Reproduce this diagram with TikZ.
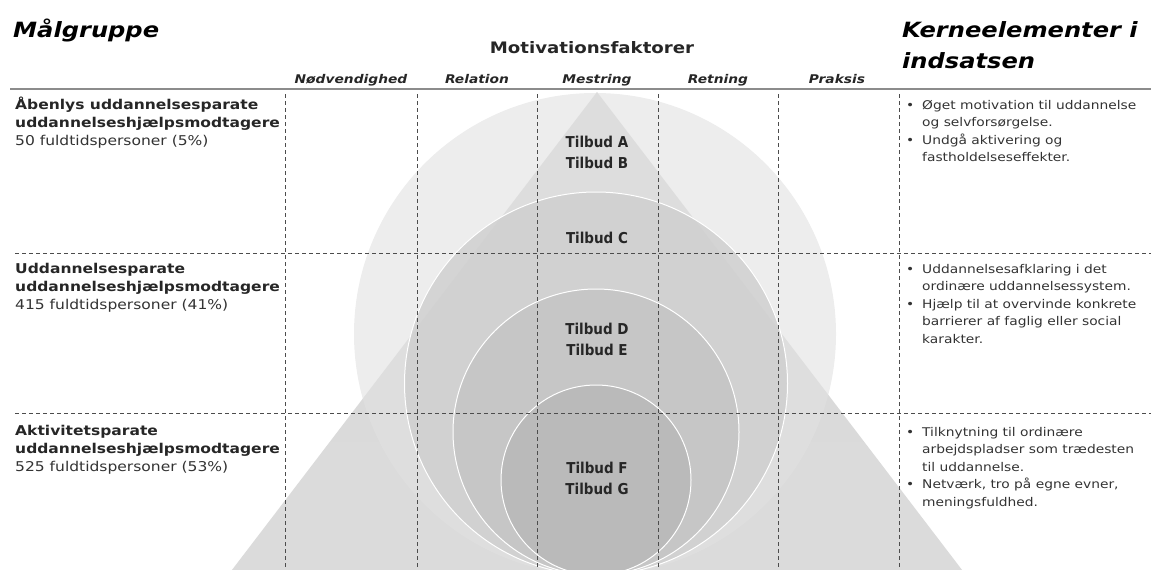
\documentclass[tikz,border=0pt]{standalone}
\usepackage{fontspec}
\setmainfont{DejaVu Sans}[FakeStretch=1.15]
\newfontfamily\tilbudfont{DejaVu Sans}[FakeStretch=0.9]
\definecolor{ringA}{HTML}{E1E1E1}
\definecolor{ringB}{HTML}{CECECE}
\definecolor{ringC}{HTML}{C4C4C4}
\definecolor{ringD}{HTML}{B8B8B8}
\newcommand{\bul}{\makebox[16pt][l]{\textbullet}}
\newcommand{\ind}{\hspace*{16pt}}

\begin{document}
\begin{tikzpicture}[x=1pt,y=1pt]
		\tikzstyle{every node}+=[inner sep=0pt]
		\tikzstyle{grid}=[black!70,line width=0.8pt,dash pattern=on 4pt off 3pt]
		\tikzstyle{ring}=[draw=white,line width=1pt,fill opacity=0.8]
		\tikzstyle{grp}=[anchor=base west,align=left,text=black!85,font=\fontsize{13.5}{18}\selectfont]
		\tikzstyle{kern}=[anchor=base west,align=left,text=black!80,font=\fontsize{12}{17.5}\selectfont]
		\tikzstyle{fak}=[anchor=base,text=black!85,font=\bfseries\itshape\fontsize{12}{14}\selectfont]
		\tikzstyle{tilbud}=[anchor=base,align=center,text=black!85,font=\tilbudfont\bfseries\fontsize{15}{21}\selectfont]
		\useasboundingbox (0,0) rectangle (1151,-570);
		\begin{scope}
			\clip (0,0) rectangle (1151,-570);
			\shade [top color=black!15,middle color=black!19,bottom color=black!14] (597,-92) -- (209,-600) -- (985,-600) -- cycle;
			\fill [ringA,fill opacity=0.61] (595,-334) circle (241);
			\filldraw [ring,fill=ringB] (596,-383.5) circle (191.5);
			\filldraw [ring,fill=ringC] (596,-432) circle (143);
			\filldraw [ring,fill=ringD] (596,-480) circle (95);
		\end{scope}
		% rows and columns
		\draw [black!45,line width=2.5pt] (10,-89) -- (1151,-89);
		\draw [grid] (15,-253) -- (1151,-253);
		\draw [grid] (15,-413) -- (1151,-413);
		\draw [grid] (285,-94) -- (285,-570);
		\draw [grid] (417,-94) -- (417,-570);
		\draw [grid] (537,-94) -- (537,-570);
		\draw [grid] (658,-94) -- (658,-570);
		\draw [grid] (778,-94) -- (778,-570);
		\draw [grid] (899,-94) -- (899,-570);
		% headings (base = last line)
		\node [anchor=base west,font=\bfseries\itshape\fontsize{21}{31}\selectfont] (maal) at (13,-37) {Målgruppe};
		\node [anchor=base west,align=left,font=\bfseries\itshape\fontsize{21}{31}\selectfont] (kerne) at (902,-68) {Kerneelementer i\\indsatsen};
		\node [anchor=base,text=black!85,font=\bfseries\fontsize{15.8}{19}\selectfont] (motiv) at (592,-53) {Motivationsfaktorer};
		\node [fak] (nodv) at (351,-83) {Nødvendighed};
		\node [fak] (rela) at (477,-83) {Relation};
		\node [fak] (mest) at (597,-83) {Mestring};
		\node [fak] (retn) at (718,-83) {Retning};
		\node [fak] (prak) at (837,-83) {Praksis};
		% target groups
		\node [grp] (grp1) at (15,-145) {\textbf{Åbenlys uddannelsesparate}\\\textbf{uddannelseshjælpsmodtagere}\\{\color{black!80}50 fuldtidspersoner (5\%)}};
		\node [grp] (grp2) at (15,-309) {\textbf{Uddannelsesparate}\\\textbf{uddannelseshjælpsmodtagere}\\{\color{black!80}415 fuldtidspersoner (41\%)}};
		\node [grp] (grp3) at (15,-471) {\textbf{Aktivitetsparate}\\\textbf{uddannelseshjælpsmodtagere}\\{\color{black!80}525 fuldtidspersoner (53\%)}};
		% offers
		\node [tilbud] (tAB) at (597,-168) {Tilbud A\\Tilbud B};
		\node [tilbud] (tC) at (597,-243) {Tilbud C};
		\node [tilbud] (tDE) at (597,-355) {Tilbud D\\Tilbud E};
		\node [tilbud] (tFG) at (597,-494) {Tilbud F\\Tilbud G};
		% core elements
		\node [kern] (kern1) at (906,-161.5) {\bul Øget motivation til uddannelse\\\ind og selvforsørgelse.\\\bul Undgå aktivering og\\\ind fastholdelseseffekter.};
		\node [kern] (kern2) at (906,-343) {\bul Uddannelsesafklaring i det\\\ind ordinære uddannelsessystem.\\\bul Hjælp til at overvinde konkrete\\\ind barrierer af faglig eller social\\\ind karakter.};
		\node [kern] (kern3) at (906,-506) {\bul Tilknytning til ordinære\\\ind arbejdspladser som trædesten\\\ind til uddannelse.\\\bul Netværk, tro på egne evner,\\\ind meningsfuldhed.};
	\end{tikzpicture}
\end{document}
